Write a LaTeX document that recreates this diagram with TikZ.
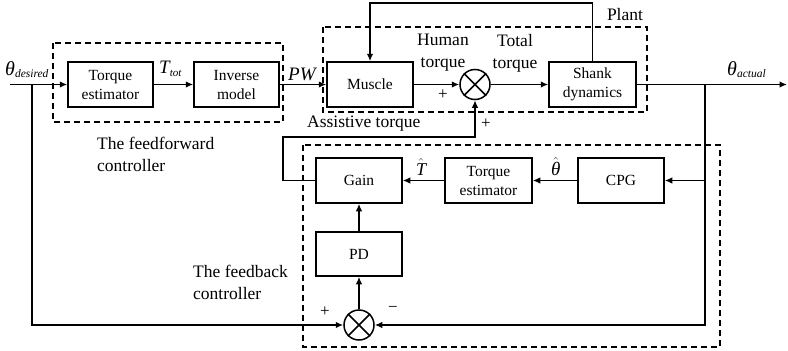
\documentclass[tikz,border=0pt]{standalone}
\usepackage{fontspec}
\setmainfont{Liberation Serif}
\usetikzlibrary{arrows.meta}
\begin{document}
\begin{tikzpicture}[x=1pt,y=-1pt,
 blk/.style={draw,line width=1.5pt,minimum width=86pt,minimum height=45pt,inner sep=0pt,align=center,font=\fontsize{15.5}{19}\selectfont},
 sumc/.style={draw,circle,line width=1.5pt,minimum size=30pt,inner sep=0pt},
 conn/.style={line width=1.5pt},
 arr/.style={conn,-{Latex[length=7.5pt,width=6.5pt]}},
 grp/.style={draw,line width=1.5pt,dash pattern=on 6pt off 4pt},
 lbl/.style={font=\fontsize{17.5}{22}\selectfont,align=left,inner sep=0pt},
 sym/.style={font=\fontsize{17}{17}\selectfont,inner sep=0pt},
 mth/.style={anchor=base west,inner sep=0pt,font=\itshape}
]
\useasboundingbox (0,0) rectangle (788,351);

% blocks
\node[blk,minimum width=85pt] (te1) at (110.5,84.5) {Torque\\estimator};
\node[blk,minimum width=85pt] (inv) at (236.5,84.5) {Inverse\\model};
\node[blk] (mus) at (370,84.5) {Muscle};
\node[sumc] (s1) at (475,84.5) {};
\node[blk,minimum width=87pt] (shk) at (592.5,84.5) {Shank\\dynamics};
\node[blk] (gain) at (359,180.5) {Gain};
\node[blk,minimum width=87pt] (te2) at (488.5,180.5) {Torque\\estimator};
\node[blk] (cpg) at (621,180.5) {CPG};
\node[blk,minimum height=44pt] (pd) at (359,254) {PD};
\node[sumc] (s2) at (359,325) {};

\draw[conn] (s1.north west) -- (s1.south east) (s1.north east) -- (s1.south west);
\draw[conn] (s2.north west) -- (s2.south east) (s2.north east) -- (s2.south west);

% coordinates
\coordinate (in) at (10,84.5);
\coordinate (b1) at (32,84.5);
\coordinate (out) at (787,84.5);
\coordinate (b2) at (705,84.5);
\coordinate (a1) at (283,180.5);
\coordinate (a2) at (283,137);
\coordinate (top) at (592.5,3);

% connectors
\draw[arr] (in) -- (te1);
\draw[arr] (te1) -- (inv);
\draw[arr] (inv) -- (mus);
\draw[arr] (mus) -- (s1);
\draw[arr] (s1) -- (shk);
\draw[arr] (shk) -- (out);
\draw[arr] (b1) |- (s2);
\draw[arr] (b2) |- (s2);
\draw[arr] (b2 |- cpg) -- (cpg);
\draw[arr] (cpg) -- (te2);
\draw[arr] (te2) -- (gain);
\draw[arr] (pd) -- (gain);
\draw[arr] (s2) -- (pd);
\draw[arr] (gain.west) -- (a1) -- (a2) -| (s1.south);
\draw[arr] (shk.north) -- (top) -| (mus.north);

% dashed groups
\draw[grp] (53,43) rectangle (283,122);
\draw[grp] (323,27) rectangle (647,112);
\draw[grp] (303,145) rectangle (720,347);

% math labels
\node[mth] (thd) at (5,75) {\fontsize{20}{20}\selectfont θ\raisebox{-2pt}{\fontsize{11.5}{11.5}\selectfont desired}};
\node[mth] (ttot) at (159,73) {\fontsize{19}{19}\selectfont T\raisebox{-3pt}{\fontsize{11}{11}\selectfont tot}};
\node[mth] (pw) at (288,80) {\fontsize{19}{19}\selectfont PW};
\node[mth] (tha) at (727,75) {\fontsize{20}{20}\selectfont θ\raisebox{-2pt}{\fontsize{11.5}{11.5}\selectfont actual}};
\node[mth] (that) at (416,175) {\fontsize{18}{18}\selectfont $\hat{\mbox{\itshape T}}$};
\node[mth] (thhat) at (551,175) {\fontsize{19}{19}\selectfont $\hat{\mbox{\itshape θ}}$};

% text labels
\node[lbl] (plant) at (625,15) {Plant};
\node[lbl,align=center] (ht) at (443,53) {Human\\torque};
\node[lbl,align=center] (tt) at (515,53) {Total\\torque};
\node[lbl,anchor=west] (ast) at (307,124) {Assistive torque};
\node[lbl,anchor=west] (ffc) at (97,154) {The feedforward\\controller};
\node[lbl,anchor=west] (fbc) at (193,282) {The feedback\\controller};
\node[sym] (p1) at (443,95) {+};
\node[sym] (p2) at (486,124) {+};
\node[sym] (p3) at (325,312) {+};
\node[sym] (m1) at (393,309) {−};
\end{tikzpicture}
\end{document}
